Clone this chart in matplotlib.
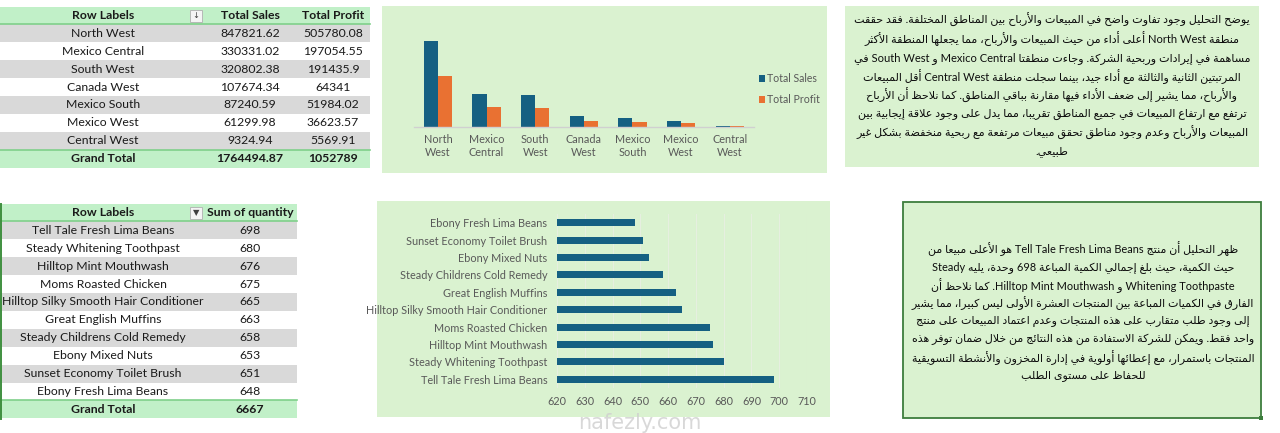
import re
import matplotlib
matplotlib.use("Agg")
import matplotlib.pyplot as plt
from matplotlib.patches import Rectangle, Patch
import numpy as np

# ---------------- data ----------------
regions = ["North West", "Mexico Central", "South West", "Canada West",
           "Mexico South", "Mexico West", "Central West"]
total_sales = [847821.62, 330331.02, 320802.38, 107674.34, 87240.59, 61299.98, 9324.94]
total_profit = [505780.08, 197054.55, 191435.9, 64341, 51984.02, 36623.57, 5569.91]
sales_grand_total = "1764494.87"
profit_grand_total = "1052789"

products = ["Tell Tale Fresh Lima Beans", "Steady Whitening Toothpast", "Hilltop Mint Mouthwash",
            "Moms Roasted Chicken", "Hilltop Silky Smooth Hair Conditioner", "Great English Muffins",
            "Steady Childrens Cold Remedy", "Ebony Mixed Nuts", "Sunset Economy Toilet Brush",
            "Ebony Fresh Lima Beans"]
quantities = [698, 680, 676, 675, 665, 663, 658, 653, 651, 648]
qty_ticks = [620, 630, 640, 650, 660, 670, 680, 690, 700, 710]

table1_headers = ["Row Labels", "Total Sales", "Total Profit"]
table2_headers = ["Row Labels", "Sum of quantity"]
grand_label = "Grand Total"
series_names = ["Total Sales", "Total Profit"]

text_regions = [
    "يوضح التحليل وجود تفاوت واضح في المبيعات والأرباح بين المناطق المختلفة. فقد حققت",
    "منطقة North West أعلى أداء من حيث المبيعات والأرباح، مما يجعلها المنطقة الأكثر",
    "مساهمة في إيرادات وربحية الشركة. وجاءت منطقتا Mexico Central و South West في",
    "المرتبتين الثانية والثالثة مع أداء جيد، بينما سجلت منطقة Central West أقل المبيعات",
    "والأرباح، مما يشير إلى ضعف الأداء فيها مقارنة بباقي المناطق. كما نلاحظ أن الأرباح",
    "ترتفع مع ارتفاع المبيعات في جميع المناطق تقريبا، مما يدل على وجود علاقة إيجابية بين",
    "المبيعات والأرباح وعدم وجود مناطق تحقق مبيعات مرتفعة مع ربحية منخفضة بشكل غير",
    "طبيعي.",
]
text_products = [
    "ظهر التحليل أن منتج Tell Tale Fresh Lima Beans هو الأعلى مبيعا من",
    "حيث الكمية، حيث بلغ إجمالي الكمية المباعة 698 وحدة، يليه Steady",
    "Whitening Toothpaste و Hilltop Mint Mouthwash. كما نلاحظ أن",
    "الفارق في الكميات المباعة بين المنتجات العشرة الأولى ليس كبيرا، مما يشير",
    "إلى وجود طلب متقارب على هذه المنتجات وعدم اعتماد المبيعات على منتج",
    "واحد فقط. ويمكن للشركة الاستفادة من هذه النتائج من خلال ضمان توفر هذه",
    "المنتجات باستمرار، مع إعطائها أولوية في إدارة المخزون والأنشطة التسويقية",
    "للحفاظ على مستوى الطلب",
]

# ---------------- Arabic shaping / visual order ----------------
_RJ = {0x622: 0xFE81, 0x623: 0xFE83, 0x624: 0xFE85, 0x625: 0xFE87, 0x627: 0xFE8D, 0x629: 0xFE93,
       0x62F: 0xFEA9, 0x630: 0xFEAB, 0x631: 0xFEAD, 0x632: 0xFEAF, 0x648: 0xFEED, 0x649: 0xFEEF}
_DJ = {0x626: 0xFE89, 0x628: 0xFE8F, 0x62A: 0xFE95, 0x62B: 0xFE99, 0x62C: 0xFE9D, 0x62D: 0xFEA1,
       0x62E: 0xFEA5, 0x633: 0xFEB1, 0x634: 0xFEB5, 0x635: 0xFEB9, 0x636: 0xFEBD, 0x637: 0xFEC1,
       0x638: 0xFEC5, 0x639: 0xFEC9, 0x63A: 0xFECD, 0x641: 0xFED1, 0x642: 0xFED5, 0x643: 0xFED9,
       0x644: 0xFEDD, 0x645: 0xFEE1, 0x646: 0xFEE5, 0x647: 0xFEE9, 0x64A: 0xFEF1}
_LA = {0x622: 0xFEF5, 0x623: 0xFEF7, 0x625: 0xFEF9, 0x627: 0xFEFB}


def _shape(s):
    cs = [ord(c) for c in s]
    out, i, prev = [], 0, False
    while i < len(cs):
        c = cs[i]
        nxt = cs[i + 1] if i + 1 < len(cs) else None
        if c == 0x644 and nxt in _LA:
            out.append(chr(_LA[nxt] + (1 if prev else 0)))
            prev = False
            i += 2
            continue
        if c in _DJ:
            nj = (nxt in _DJ) or (nxt in _RJ)
            f = (3 if nj else 1) if prev else (2 if nj else 0)
            out.append(chr(_DJ[c] + f))
            prev = nj
        elif c in _RJ:
            out.append(chr(_RJ[c] + (1 if prev else 0)))
            prev = False
        elif c == 0x621:
            out.append(chr(0xFE80))
            prev = False
        else:
            out.append(chr(c))
            prev = False
        i += 1
    return "".join(out)


_LAT = re.compile(r"[A-Za-z0-9]+(?: [A-Za-z0-9]+)*")


def rtl_visual(s):
    parts, pos = [], 0
    for m in _LAT.finditer(s):
        parts.append(("a", s[pos:m.start()]))
        parts.append(("l", m.group()))
        pos = m.end()
    parts.append(("a", s[pos:]))
    return "".join(t if k == "l" else _shape(t)[::-1] for k, t in reversed(parts))


# ---------------- figure ----------------
W, H = 1280, 433
fig = plt.figure(figsize=(W / 100, H / 100), dpi=100)
fig.patch.set_facecolor("white")

bg = fig.add_axes([0, 0, 1, 1], zorder=0)
bg.set_xlim(0, W)
bg.set_ylim(H, 0)
bg.axis("off")

TXT = "#1a1a1a"
GRAY_ROW = "#d9d9d9"
HDR = "#c1f0c8"
HDR_LINE = "#7fd08a"
PANEL = "#daf2d0"
LABEL_GRAY = "#595959"
C_SALES = "#156082"
C_PROFIT = "#e97132"
TFONT = ["Lato", "DejaVu Sans"]


def px_axes(l, t, r, b, z=2):
    return fig.add_axes([l / W, 1 - b / H, (r - l) / W, (b - t) / H], zorder=z)


def rect(x0, y0, x1, y1, **kw):
    bg.add_patch(Rectangle((x0, y0), x1 - x0, y1 - y0, **kw))


def draw_table(top, width, row_h, headers, labels, cols, col_x, totals, icon):
    hb = top + row_h
    rect(0, top, width, hb, facecolor=HDR, edgecolor="none")
    for i in range(len(labels)):
        y0 = hb + i * row_h
        if i % 2 == 0:
            rect(0, y0, width, y0 + row_h, facecolor=GRAY_ROW, edgecolor="none")
        bg.text(103, y0 + row_h / 2, labels[i], ha="center", va="center",
                fontsize=8.8, color=TXT, family=TFONT)
        for cx, col in zip(col_x, cols):
            bg.text(cx, y0 + row_h / 2, str(col[i]), ha="center", va="center",
                    fontsize=8.8, color=TXT, family=TFONT)
    tb = hb + len(labels) * row_h
    rect(0, tb, width, tb + row_h, facecolor=HDR, edgecolor="none")
    bg.plot([0, width], [hb, hb], color=HDR_LINE, lw=1.2)
    bg.plot([0, width], [tb, tb], color=HDR_LINE, lw=1.2)
    bg.text(103, top + row_h / 2, headers[0], ha="center", va="center",
            fontsize=8.8, color=TXT, family=TFONT, fontweight="bold")
    for cx, h in zip(col_x, headers[1:]):
        bg.text(cx, top + row_h / 2, h, ha="center", va="center",
                fontsize=8.8, color=TXT, family=TFONT, fontweight="bold")
    bg.text(103, tb + row_h / 2, grand_label, ha="center", va="center",
            fontsize=8.8, color=TXT, family=TFONT, fontweight="bold")
    for cx, tv in zip(col_x, totals):
        bg.text(cx, tb + row_h / 2, tv, ha="center", va="center",
                fontsize=8.8, color=TXT, family=TFONT, fontweight="bold")
    # filter button
    rect(190, top + 3.5, 202, top + 15, facecolor="#f4f4f4", edgecolor="#b0b0b0", lw=0.6)
    bg.text(196, top + 9.5, icon, ha="center", va="center", fontsize=6, color="#404040",
            family=["DejaVu Sans"])


# table 1
draw_table(6.5, 370, 17.9, table1_headers, regions, [total_sales, total_profit],
           [250, 333], [sales_grand_total, profit_grand_total], "↓")
# table 2
draw_table(203.5, 297, 17.9, table2_headers, products, [quantities], [250],
           [str(sum(quantities))], "▼")
bg.plot([0.8, 0.8], [203.5, 418.5], color="#3f8f3f", lw=1.4)

# panels
rect(382, 6, 827, 173, facecolor=PANEL, edgecolor="none")
rect(377, 201, 830, 417, facecolor=PANEL, edgecolor="none")
rect(845, 6, 1259, 167, facecolor=PANEL, edgecolor="none")
rect(903, 202, 1261, 418, facecolor=PANEL, edgecolor="#3d7d3d", lw=1.3)
rect(1258.5, 415.5, 1263, 420, facecolor="#3d7d3d", edgecolor="none")

# ---------------- chart 1: grouped columns ----------------
ax1 = px_axes(413.6, 26, 754, 127)
ax1.set_facecolor("none")
x = np.arange(len(regions))
bw = 0.29
ax1.bar(x - bw / 2, total_sales, bw, color=C_SALES)
ax1.bar(x + bw / 2, total_profit, bw, color=C_PROFIT)
ax1.set_xlim(-0.5, len(regions) - 0.5)
ax1.set_ylim(0, 1000000)
for s in ["top", "right", "left"]:
    ax1.spines[s].set_visible(False)
ax1.spines["bottom"].set_color("#d0d0d0")
ax1.spines["bottom"].set_linewidth(1.0)
ax1.set_yticks([])
ax1.set_xticks(x)
ax1.set_xticklabels([r.replace(" ", "\n") for r in regions], fontsize=7.8,
                    color=LABEL_GRAY, family=TFONT, linespacing=1.25)
ax1.tick_params(axis="x", length=0, pad=5)
fig.legend([Patch(facecolor=C_SALES), Patch(facecolor=C_PROFIT)], series_names,
           loc="center left", bbox_to_anchor=(759 / W, 1 - 89 / H), frameon=False,
           prop={"family": TFONT, "size": 7.6}, labelcolor=LABEL_GRAY,
           handlelength=0.6, handleheight=0.6, handletextpad=0.2, labelspacing=0.95,
           borderpad=0, borderaxespad=0)

# ---------------- chart 2: horizontal bars ----------------
ax2 = px_axes(557, 214, 807, 388)
ax2.set_facecolor("none")
y = np.arange(len(products))
ax2.barh(y, quantities, height=0.4, color=C_SALES, zorder=3)
ax2.set_xlim(qty_ticks[0], qty_ticks[-1])
ax2.set_ylim(-0.5, len(products) - 0.5)
ax2.set_xticks(qty_ticks)
ax2.set_xticklabels([str(t) for t in qty_ticks], fontsize=7.8, color=LABEL_GRAY, family=TFONT)
ax2.set_yticks(y)
ax2.set_yticklabels(products, fontsize=7.8, color=LABEL_GRAY, family=TFONT)
ax2.tick_params(axis="both", length=0)
ax2.tick_params(axis="x", pad=6)
ax2.tick_params(axis="y", pad=7)
ax2.grid(axis="x", color="#e6efe0", lw=0.8, zorder=0)
for s in ax2.spines.values():
    s.set_visible(False)

# watermark
bg.text(640, 423, "nafezly.com", ha="center", va="center", fontsize=15,
        color="#cfcfcf", family=["DejaVu Sans"], alpha=0.8, zorder=5)

# ---------------- Arabic text boxes ----------------
AFONT = ["Lato", "DejaVu Sans"]


def text_box(lines, cx, y0, dy, target_w):
    objs = [bg.text(cx, y0 + i * dy, rtl_visual(l), ha="center", va="center",
                    fontsize=10, color="#0d0d0d", family=AFONT) for i, l in enumerate(lines)]
    return objs, target_w


boxes = [text_box(text_regions, 1052, 20, 18.8, 398),
         text_box(text_products, 1083, 249, 18.1, 342)]

fig.canvas.draw()
r = fig.canvas.get_renderer()
for objs, tw in boxes:
    w = max(o.get_window_extent(r).width for o in objs)
    fs = 10 * tw / w
    for o in objs:
        o.set_fontsize(fs)

fig.savefig("out.png", dpi=100, facecolor="white")
